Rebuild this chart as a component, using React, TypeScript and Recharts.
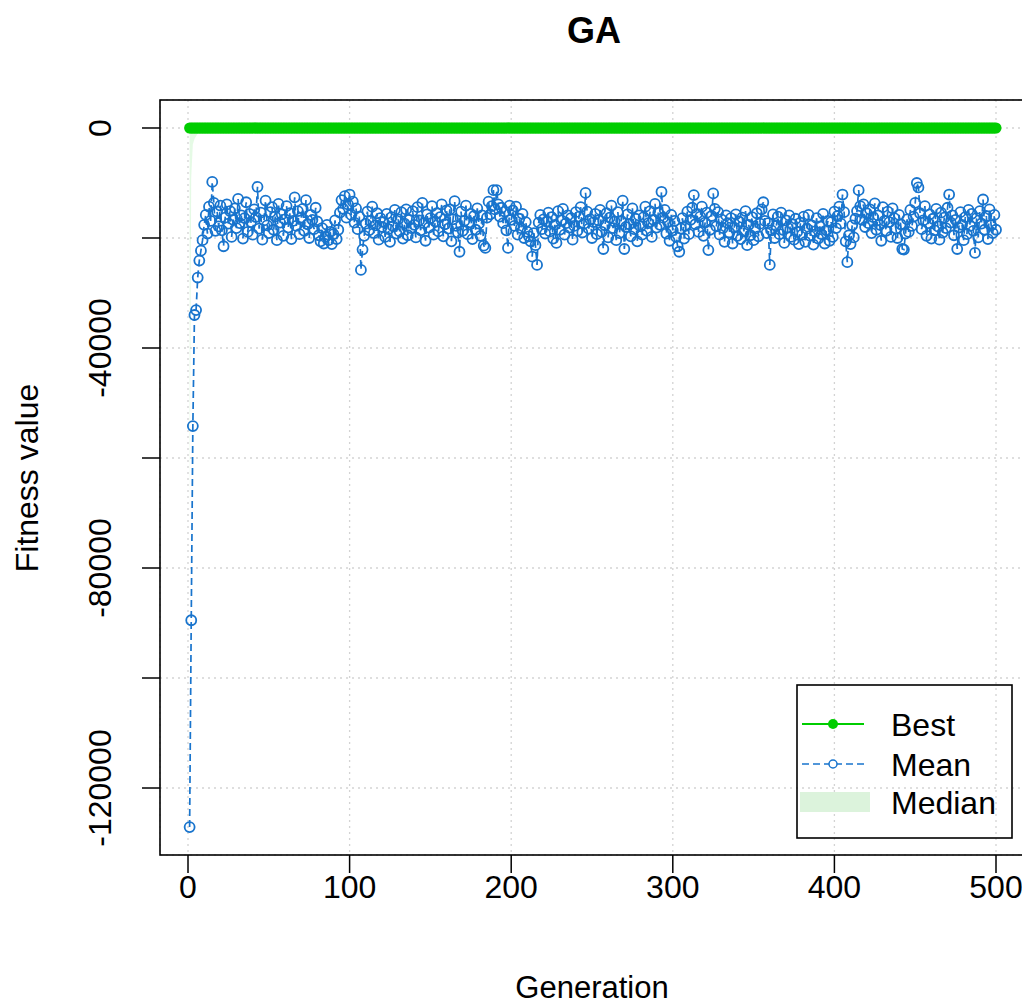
import { ComposedChart, Line, Area, XAxis, YAxis, CartesianGrid } from 'recharts';

// generation index (x axis categories)
const generations = Array.from({ length: 500 }, (_, i) => i + 1);

// best fitness reads as 0 for every generation
const bestValue = 0;

// population mean per generation
const meanFitness = [
  -127100, -89500, -54200, -34000, -33100, -27200, -24100, -22300, -20400, -17600, -15800, -19200, -14300, -16900, -9800, -13600, -18700, -15200, -17900, -14100,
  -18600, -21500, -16300, -13900, -17400, -15100, -19800, -16700, -14600, -18200, -12900, -17300, -15900, -20100, -16400, -13500, -18900, -15600, -17100, -19400,
  -14800, -16200, -10700, -18300, -15400, -20300, -16800, -13200, -17700, -19100, -15300, -14400, -18500, -16100, -20400, -13800, -17200, -15700, -19600, -16600,
  -14200, -18100, -15500, -20200, -16900, -12600, -17800, -15100, -19300, -16300, -14700, -18700, -13100, -17500, -20000, -15800, -16700, -18400, -14500, -17000,
  -19500, -20600, -18200, -21000, -19800, -17600, -20400, -18900, -21100, -19300, -16800, -20200, -18500, -15400, -13100, -14700, -12400, -16300, -13900, -12100,
  -15800, -13400, -17200, -14600, -18400, -16100, -25800, -22100, -19600, -17400, -15200, -18600, -16900, -14300, -19100, -17700, -15500, -20300, -16400, -18000,
  -17100, -19800, -15600, -18400, -20700, -16200, -17900, -14900, -19200, -16600, -18800, -15300, -20100, -17400, -14800, -19500, -16700, -18200, -15100, -17600,
  -19900, -14400, -16800, -18600, -13600, -17300, -20500, -15700, -18100, -16400, -14200, -19400, -17000, -15500, -18800, -16200, -13900, -19700, -17500, -15000,
  -18300, -14800, -20600, -16600, -13300, -17800, -19000, -22500, -15200, -18700, -16900, -14100, -19300, -17200, -15600, -20200, -16000, -18500, -14600, -17400,
  -19600, -15900, -21400, -21800, -16300, -13400, -15700, -14200, -11300, -14800, -11300, -13900, -16100, -14500, -17300, -15200, -18600, -21800, -14100, -16700,
  -15000, -17800, -14300, -19400, -16500, -18200, -15600, -20000, -17100, -18900, -19700, -20600, -23400, -19100, -21300, -24900, -17200, -15800, -18400, -16600,
  -19200, -17000, -15400, -18800, -16200, -20100, -17600, -20900, -15100, -18500, -16800, -14700, -19400, -17300, -15900, -18100, -16400, -20300, -17800, -15300,
  -18700, -16100, -14400, -19000, -17400, -11800, -15200, -18300, -16600, -20000, -17100, -15600, -19300, -16800, -14900, -18900, -22000, -17700, -15500, -19900,
  -16300, -14100, -18200, -17000, -20400, -15300, -19100, -16900, -13200, -22000, -18000, -15700, -17500, -19700, -14600, -18400, -16500, -20600, -15900, -17900,
  -19400, -16200, -14300, -18700, -17300, -15100, -19800, -16700, -13800, -18100, -15400, -17600, -11600, -16300, -14900, -19200, -17100, -20500, -15800, -18600,
  -16900, -19800, -21500, -22500, -18300, -16400, -20100, -17800, -15200, -19300, -16700, -14500, -12200, -17500, -15600, -18900, -16100, -14300, -19600, -17200,
  -15400, -22200, -18500, -16000, -11900, -14700, -17900, -15300, -19400, -16600, -18200, -20700, -15900, -17300, -19000, -16400, -21000, -18100, -15700, -19600,
  -17000, -20200, -16300, -18800, -15100, -21300, -17600, -19500, -16200, -20400, -18300, -15500, -19700, -17400, -14800, -13500, -16900, -19100, -17300, -24900,
  -18600, -15700, -20000, -17800, -16100, -19300, -15400, -18500, -20900, -16800, -18100, -15900, -19800, -17500, -20300, -16500, -18900, -21100, -17200, -19400,
  -16100, -20700, -18300, -15800, -19600, -17700, -21200, -18800, -16400, -20100, -17900, -19300, -15600, -21000, -18600, -16900, -20500, -17100, -19800, -15200,
  -18200, -16000, -14300, -17400, -12100, -15300, -20600, -24400, -19500, -21100, -17700, -19900, -16500, -15100, -11300, -14200, -16700, -13900, -18000, -15500,
  -17300, -14800, -19100, -16200, -13700, -18500, -15900, -17600, -20500, -14400, -16900, -18700, -15200, -17100, -19800, -14600, -16400, -18300, -20000, -15800,
  -17500, -22000, -22100, -19200, -16600, -18900, -14900, -17800, -16100, -13600, -10000, -10800, -15500, -18400, -16800, -14200, -19600, -17300, -15700, -20100,
  -16500, -18600, -14700, -17900, -20300, -15400, -19000, -16300, -18200, -14500, -12100, -17200, -15900, -19500, -16700, -22000, -18100, -15300, -17600, -20400,
  -16200, -19300, -14900, -17800, -15600, -18700, -22700, -16400, -19900, -15100, -17400, -13000, -18500, -16000, -20200, -14800, -17700, -19100, -15800, -18500,
];

// median for the first generations; after that it sits on the best value
const medianEarly = [-71000, -9000, -3000, -2000, -1500, -1000, -500, 0];

const xTicks = [0, 100, 200, 300, 400, 500];
const yTicks = [-120000, -100000, -80000, -60000, -40000, -20000, 0];
const yLabelled = [-120000, -80000, -40000, 0];

const GREEN = '#00CD00';
const BLUE = '#1874CD';
const MEDIAN_FILL = 'rgba(0, 205, 0, 0.1)';
const FONT = '"Liberation Sans", Arial, sans-serif';

const data = generations.map((g, i) => ({
  gen: g,
  best: bestValue,
  mean: meanFitness[i],
  medianBand: i < medianEarly.length ? [medianEarly[i], bestValue] : undefined,
}));

function XTick({ x, y, payload }: any) {
  return (
    <text x={x} y={y + 25} textAnchor="middle" fontSize={32} fontFamily={FONT} fill="#000">
      {payload.value}
    </text>
  );
}

function YTick({ x, y, payload }: any) {
  if (!yLabelled.includes(payload.value)) return null;
  return (
    <text
      x={x - 31}
      y={y}
      transform={`rotate(-90 ${x - 31} ${y})`}
      textAnchor="middle"
      fontSize={32}
      fontFamily={FONT}
      fill="#000"
    >
      {payload.value}
    </text>
  );
}

export default function App() {
  return (
    <div style={{ position: 'absolute', left: 0, top: 0, width: 1022, height: 1007, overflow: 'hidden', background: '#fff' }}>
      <ComposedChart width={1040} height={1007} data={data} margin={{ top: 100, right: 12, bottom: 0, left: 0 }}>
        <CartesianGrid stroke="#d3d3d3" strokeDasharray="2 4" strokeWidth={1.3} />
        <XAxis
          type="number"
          dataKey="gen"
          domain={[-17.33, 519.8]}
          ticks={xTicks}
          allowDataOverflow
          axisLine={false}
          tickLine={{ stroke: '#000', strokeWidth: 1.5 }}
          tickSize={18}
          tickMargin={0}
          tick={<XTick />}
          height={152}
        />
        <YAxis
          type="number"
          domain={[-132180, 5090]}
          ticks={yTicks}
          allowDataOverflow
          axisLine={false}
          tickLine={{ stroke: '#000', strokeWidth: 1.5 }}
          tickSize={18}
          tickMargin={0}
          tick={<YTick />}
          width={160}
        />
        <Area
          dataKey="medianBand"
          stroke="none"
          fill={MEDIAN_FILL}
          fillOpacity={1}
          isAnimationActive={false}
        />
        <Line
          dataKey="best"
          stroke={GREEN}
          strokeWidth={2}
          dot={{ r: 5.5, fill: GREEN, stroke: 'none' }}
          isAnimationActive={false}
        />
        <Line
          dataKey="mean"
          stroke={BLUE}
          strokeWidth={1.7}
          strokeDasharray="7 4"
          dot={{ r: 5, fill: 'none', stroke: BLUE, strokeWidth: 1.8, strokeDasharray: 'none' }}
          isAnimationActive={false}
        />
      </ComposedChart>

      <svg width={1022} height={1007} style={{ position: 'absolute', left: 0, top: 0, pointerEvents: 'none' }}>
        <rect x={160} y={100} width={868} height={755} fill="none" stroke="#000" strokeWidth={1.6} />
        <text x={594} y={43} textAnchor="middle" fontSize={36} fontWeight="bold" fontFamily={FONT}>GA</text>
        <text x={592} y={998} textAnchor="middle" fontSize={31} fontFamily={FONT}>Generation</text>
        <text x={38} y={478} transform="rotate(-90 38 478)" textAnchor="middle" fontSize={32} fontFamily={FONT}>Fitness value</text>

        <g>
          <rect x={797} y={685} width={215} height={153} fill="none" stroke="#000" strokeWidth={1.6} />
          <line x1={802} y1={724} x2={864} y2={724} stroke={GREEN} strokeWidth={2} />
          <circle cx={833} cy={724} r={5} fill={GREEN} />
          <text x={891} y={736} fontSize={32} fontFamily={FONT}>Best</text>
          <line x1={802} y1={764} x2={864} y2={764} stroke={BLUE} strokeWidth={1.5} strokeDasharray="7 4" />
          <circle cx={833} cy={764} r={4} fill="#fff" stroke={BLUE} strokeWidth={1.5} />
          <text x={891} y={776} fontSize={32} fontFamily={FONT}>Mean</text>
          <rect x={800} y={792} width={70} height={20} fill="#dcf3dc" />
          <text x={891} y={814} fontSize={32} fontFamily={FONT}>Median</text>
        </g>
      </svg>
    </div>
  );
}
